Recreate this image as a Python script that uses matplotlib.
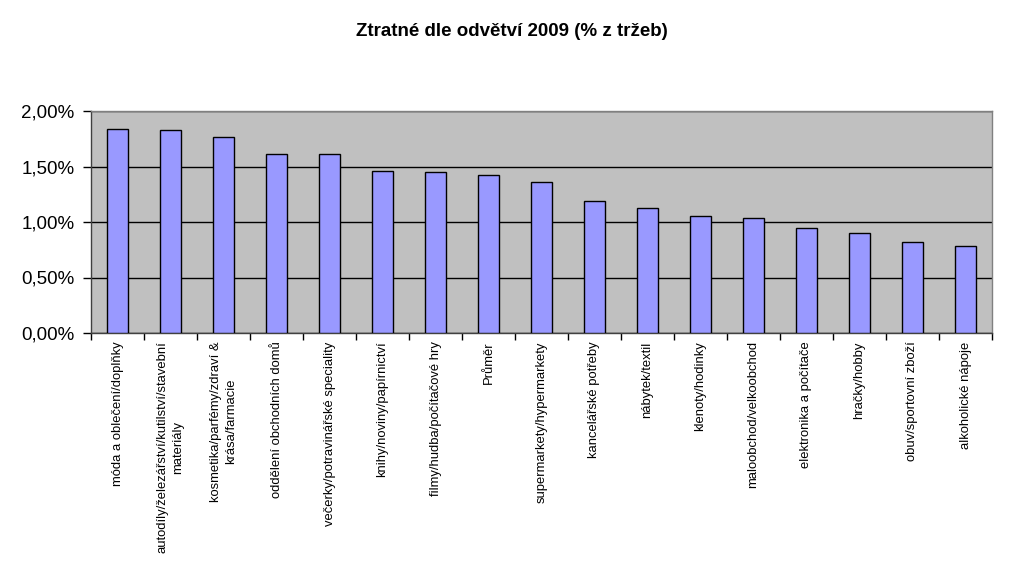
import matplotlib
matplotlib.use("Agg")
import matplotlib.pyplot as plt
from matplotlib.ticker import FuncFormatter, FixedLocator
import numpy as np

plt.rcParams['font.family'] = ['Liberation Sans', 'DejaVu Sans']

categories = [
    "móda a oblečení/doplňky",
    "autodíly/železářství/kutilství/stavební\nmateriály",
    "kosmetika/parfémy/zdraví &\nkrása/farmacie",
    "oddělení obchodních domů",
    "večerky/potravinářské speciality",
    "knihy/noviny/papírnictví",
    "filmy/hudba/počítačové hry",
    "Průměr",
    "supermarkety/hypermarkety",
    "kancelářské potřeby",
    "nábytek/textil",
    "klenoty/hodinky",
    "maloobchod/velkoobchod",
    "elektronika a počítače",
    "hračky/hobby",
    "obuv/sportovní zboží",
    "alkoholické nápoje",
]
values = [1.835, 1.826, 1.763, 1.61, 1.61, 1.457, 1.448, 1.423, 1.36,
          1.192, 1.123, 1.051, 1.036, 0.943, 0.898, 0.817, 0.787]
yticks = [0.0, 0.5, 1.0, 1.5, 2.0]
title = "Ztratné dle odvětví 2009 (% z tržeb)"

fig = plt.figure(figsize=(10.24, 5.66), dpi=100)
ax = fig.add_axes([91/1024, 1 - 333/566, (992-91)/1024, (333-111)/566])
ax.set_facecolor('#C0C0C0')

x = np.arange(len(categories))
ax.bar(x, values, width=0.4, color='#9999FF', edgecolor='black', linewidth=1, zorder=3)

ax.set_xlim(-0.5, len(categories) - 0.5)
ax.set_ylim(0, 2.0)
ax.set_yticks(yticks)
ax.yaxis.set_major_formatter(FuncFormatter(lambda v, p: f"{v:.2f}".replace('.', ',') + '%'))
ax.grid(axis='y', color='black', linewidth=1, zorder=1)
ax.set_axisbelow(True)

ax.set_xticks(x)
ax.set_xticklabels(categories, rotation=90, va='top', ha='center',
                   multialignment='center', fontsize=9.4, linespacing=1.4)
ax.tick_params(axis='x', which='major', length=0, pad=6)
ax.xaxis.set_minor_locator(FixedLocator(np.arange(-0.5, len(categories), 1.0)))
ax.tick_params(axis='x', which='minor', length=5, width=1, color='black', direction='out')
ax.tick_params(axis='y', length=6, width=1, color='black', direction='out', labelsize=13.5, pad=6)

for s in ['top', 'right']:
    ax.spines[s].set_color('#808080')
    ax.spines[s].set_linewidth(1)
for s in ['left', 'bottom']:
    ax.spines[s].set_color('#404040')
    ax.spines[s].set_linewidth(1)

fig.text(0.5, 1 - 32/566, title, ha='center', va='center', fontsize=13.5, fontweight='bold')

fig.savefig('out.png', dpi=100, facecolor='white')
